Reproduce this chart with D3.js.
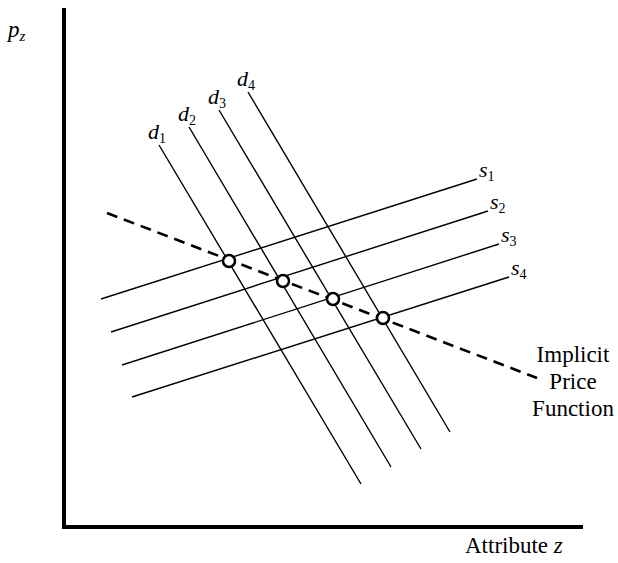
<!DOCTYPE html>
<html lang="en-US">
<head>
<meta charset="UTF-8" />
<title>Implicit Price Function</title>
<style>
  body { margin: 0; background: #fff; }
</style>
<script src="https://d3js.org/d3.v7.min.js"></script>
</head>
<body>
<div id="container"></div>
<script>
// demand curves d1..d4 (top point, bottom point) in attribute / price units
const demand = [
  { name: "1", x0: 95,  y0: 382, x1: 297, y1: 43 },
  { name: "2", x0: 125, y0: 400, x1: 327, y1: 60 },
  { name: "3", x0: 155, y0: 417, x1: 357, y1: 78 },
  { name: "4", x0: 184, y0: 435, x1: 386, y1: 95 }
];
// supply curves s1..s4 (left point, right point)
const supply = [
  { name: "1", x0: 37, y0: 228, x1: 413, y1: 348 },
  { name: "2", x0: 47, y0: 195, x1: 424, y1: 316 },
  { name: "3", x0: 58, y0: 162, x1: 435, y1: 283 },
  { name: "4", x0: 68, y0: 130, x1: 445, y1: 250 }
];
// implicit price function (dashed) and the equilibrium points on it
const priceFn = [[43, 314], [473, 149]];
const equilibria = [[165, 266], [219, 246], [269, 228], [319, 209]];
const priceFnLabel = ["Implicit", "Price", "Function"];

const width = 618, height = 563;

const svg = d3.select("#container").append("svg")
  .attr("width", width).attr("height", height);

const x = d3.scaleLinear().domain([0, 519]).range([64, 583]);
const y = d3.scaleLinear().domain([0, 519]).range([527, 8]);

const line = d3.line().x(d => x(d[0])).y(d => y(d[1]));

// axes
svg.append("path")
  .attr("d", line([[0, 519], [0, 0], [519, 0]]))
  .attr("fill", "none").attr("stroke", "#000").attr("stroke-width", 4)
  .attr("stroke-linejoin", "miter");

svg.append("g").selectAll("line")
  .data(demand.concat(supply))
  .join("line")
  .attr("x1", d => x(d.x0)).attr("y1", d => y(d.y0))
  .attr("x2", d => x(d.x1)).attr("y2", d => y(d.y1))
  .attr("stroke", "#000").attr("stroke-width", 1.4);

svg.append("path")
  .attr("d", line(priceFn))
  .attr("fill", "none").attr("stroke", "#000")
  .attr("stroke-width", 2.6).attr("stroke-dasharray", "11,7");

svg.append("g").selectAll("circle")
  .data(equilibria)
  .join("circle")
  .attr("cx", d => x(d[0])).attr("cy", d => y(d[1]))
  .attr("r", 6).attr("fill", "#fff")
  .attr("stroke", "#000").attr("stroke-width", 2.5);

// every text uses Times metrics
function serif(sel, size) {
  return sel.style("font-family", "'Liberation Serif'").style("font-size", size + "px");
}

// curve labels
function subLabel(sel, letter) {
  sel.append("tspan").style("font-style", "italic").text(letter);
  sel.append("tspan").style("font-size", "14px").attr("dy", 4).text(d => d.name);
}
svg.append("g").selectAll("text")
  .data(demand).join("text")
  .attr("x", d => x(d.x0) - 11).attr("y", d => y(d.y0) - 6)
  .call(serif, 22)
  .call(subLabel, "d");
svg.append("g").selectAll("text")
  .data(supply).join("text")
  .attr("x", d => x(d.x1) + 2).attr("y", d => y(d.y1) - 2)
  .call(serif, 22)
  .call(subLabel, "s");

// axis titles
const pz = svg.append("text").attr("x", 8).attr("y", 37).call(serif, 23)
  .style("font-style", "italic");
pz.append("tspan").text("p");
pz.append("tspan").style("font-size", "15px").attr("dy", 4).text("z");

const az = svg.append("text").attr("x", 465).attr("y", 553).call(serif, 23);
az.append("tspan").text("Attribute ");
az.append("tspan").style("font-style", "italic").text("z");

svg.append("text")
  .attr("text-anchor", "middle").call(serif, 23)
  .selectAll("tspan")
  .data(priceFnLabel)
  .join("tspan")
  .attr("x", 573).attr("y", (d, i) => 362 + i * 27)
  .text(d => d);
</script>
</body>
</html>
